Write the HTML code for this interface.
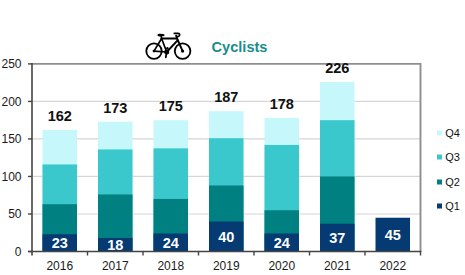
<!DOCTYPE html>
<html><head><meta charset="utf-8"><style>
html,body{margin:0;padding:0;background:#fff;}
body{width:465px;height:275px;overflow:hidden;}
svg{display:block;}
text{font-family:"Liberation Sans",sans-serif;}
.ax{font-size:12px;fill:#1a1a1a;}
.tot{font-size:14.5px;font-weight:bold;fill:#111;}
.q1{font-size:14.5px;font-weight:bold;fill:#fff;}
.leg{font-size:11px;fill:#111;}
.title{font-size:14.6px;font-weight:bold;fill:#1a8c8c;}
</style></head><body>
<svg width="465" height="275" viewBox="0 0 465 275">
<line x1="32.0" y1="213.98" x2="420.5" y2="213.98" stroke="#d6d6d6" stroke-width="1.2"/>
<line x1="32.0" y1="176.46" x2="420.5" y2="176.46" stroke="#d6d6d6" stroke-width="1.2"/>
<line x1="32.0" y1="138.94" x2="420.5" y2="138.94" stroke="#d6d6d6" stroke-width="1.2"/>
<line x1="32.0" y1="101.42" x2="420.5" y2="101.42" stroke="#d6d6d6" stroke-width="1.2"/>
<rect x="42.50" y="129.94" width="34.5" height="121.56" fill="#c6f8fb"/>
<rect x="42.50" y="164.45" width="34.5" height="87.05" fill="#3ac8cc"/>
<rect x="42.50" y="204.22" width="34.5" height="47.28" fill="#008080"/>
<rect x="42.50" y="234.24" width="34.5" height="17.26" fill="#053a72"/>
<rect x="98.00" y="121.68" width="34.5" height="129.82" fill="#c6f8fb"/>
<rect x="98.00" y="149.45" width="34.5" height="102.05" fill="#3ac8cc"/>
<rect x="98.00" y="194.47" width="34.5" height="57.03" fill="#008080"/>
<rect x="98.00" y="237.99" width="34.5" height="13.51" fill="#053a72"/>
<rect x="153.50" y="120.18" width="34.5" height="131.32" fill="#c6f8fb"/>
<rect x="153.50" y="148.32" width="34.5" height="103.18" fill="#3ac8cc"/>
<rect x="153.50" y="198.97" width="34.5" height="52.53" fill="#008080"/>
<rect x="153.50" y="233.49" width="34.5" height="18.01" fill="#053a72"/>
<rect x="209.00" y="111.18" width="34.5" height="140.32" fill="#c6f8fb"/>
<rect x="209.00" y="138.19" width="34.5" height="113.31" fill="#3ac8cc"/>
<rect x="209.00" y="185.46" width="34.5" height="66.04" fill="#008080"/>
<rect x="209.00" y="221.48" width="34.5" height="30.02" fill="#053a72"/>
<rect x="264.50" y="117.93" width="34.5" height="133.57" fill="#c6f8fb"/>
<rect x="264.50" y="144.94" width="34.5" height="106.56" fill="#3ac8cc"/>
<rect x="264.50" y="210.23" width="34.5" height="41.27" fill="#008080"/>
<rect x="264.50" y="233.49" width="34.5" height="18.01" fill="#053a72"/>
<rect x="320.00" y="81.91" width="34.5" height="169.59" fill="#c6f8fb"/>
<rect x="320.00" y="120.18" width="34.5" height="131.32" fill="#3ac8cc"/>
<rect x="320.00" y="176.46" width="34.5" height="75.04" fill="#008080"/>
<rect x="320.00" y="223.74" width="34.5" height="27.76" fill="#053a72"/>
<rect x="375.50" y="217.73" width="34.5" height="33.77" fill="#053a72"/>
<path d="M32.0 63.9 H420.5 V251.5" fill="none" stroke="#8e8e8e" stroke-width="1.9"/>
<line x1="32.0" y1="63.0" x2="32.0" y2="255.5" stroke="#444" stroke-width="1.6"/>
<line x1="28.0" y1="251.5" x2="421.4" y2="251.5" stroke="#444" stroke-width="1.5"/>
<line x1="28.0" y1="251.50" x2="32.0" y2="251.50" stroke="#444" stroke-width="1.4"/>
<line x1="28.0" y1="213.98" x2="32.0" y2="213.98" stroke="#444" stroke-width="1.4"/>
<line x1="28.0" y1="176.46" x2="32.0" y2="176.46" stroke="#444" stroke-width="1.4"/>
<line x1="28.0" y1="138.94" x2="32.0" y2="138.94" stroke="#444" stroke-width="1.4"/>
<line x1="28.0" y1="101.42" x2="32.0" y2="101.42" stroke="#444" stroke-width="1.4"/>
<line x1="28.0" y1="63.90" x2="32.0" y2="63.90" stroke="#444" stroke-width="1.4"/>
<line x1="87.50" y1="251.5" x2="87.50" y2="255.5" stroke="#444" stroke-width="1.4"/>
<line x1="143.00" y1="251.5" x2="143.00" y2="255.5" stroke="#444" stroke-width="1.4"/>
<line x1="198.50" y1="251.5" x2="198.50" y2="255.5" stroke="#444" stroke-width="1.4"/>
<line x1="254.00" y1="251.5" x2="254.00" y2="255.5" stroke="#444" stroke-width="1.4"/>
<line x1="309.50" y1="251.5" x2="309.50" y2="255.5" stroke="#444" stroke-width="1.4"/>
<line x1="365.00" y1="251.5" x2="365.00" y2="255.5" stroke="#444" stroke-width="1.4"/>
<line x1="420.50" y1="251.5" x2="420.50" y2="255.5" stroke="#444" stroke-width="1.4"/>
<text x="21.5" y="255.80" text-anchor="end" class="ax">0</text>
<text x="21.5" y="218.28" text-anchor="end" class="ax">50</text>
<text x="21.5" y="180.76" text-anchor="end" class="ax">100</text>
<text x="21.5" y="143.24" text-anchor="end" class="ax">150</text>
<text x="21.5" y="105.72" text-anchor="end" class="ax">200</text>
<text x="21.5" y="68.20" text-anchor="end" class="ax">250</text>
<text x="59.75" y="269.8" text-anchor="middle" class="ax">2016</text>
<text x="115.25" y="269.8" text-anchor="middle" class="ax">2017</text>
<text x="170.75" y="269.8" text-anchor="middle" class="ax">2018</text>
<text x="226.25" y="269.8" text-anchor="middle" class="ax">2019</text>
<text x="281.75" y="269.8" text-anchor="middle" class="ax">2020</text>
<text x="337.25" y="269.8" text-anchor="middle" class="ax">2021</text>
<text x="392.75" y="269.8" text-anchor="middle" class="ax">2022</text>
<text x="59.75" y="120.94" text-anchor="middle" class="tot">162</text>
<text x="59.75" y="248.37" text-anchor="middle" class="q1">23</text>
<text x="115.25" y="112.68" text-anchor="middle" class="tot">173</text>
<text x="115.25" y="250.25" text-anchor="middle" class="q1">18</text>
<text x="170.75" y="111.18" text-anchor="middle" class="tot">175</text>
<text x="170.75" y="248.00" text-anchor="middle" class="q1">24</text>
<text x="226.25" y="102.18" text-anchor="middle" class="tot">187</text>
<text x="226.25" y="241.99" text-anchor="middle" class="q1">40</text>
<text x="281.75" y="108.93" text-anchor="middle" class="tot">178</text>
<text x="281.75" y="248.00" text-anchor="middle" class="q1">24</text>
<text x="337.25" y="72.91" text-anchor="middle" class="tot">226</text>
<text x="337.25" y="243.12" text-anchor="middle" class="q1">37</text>
<text x="392.75" y="240.12" text-anchor="middle" class="q1">45</text>
<rect x="437" y="130.5" width="5" height="5" fill="#c6f8fb"/>
<text x="445.2" y="136.6" class="leg">Q4</text>
<rect x="437" y="154.5" width="5" height="5" fill="#3ac8cc"/>
<text x="445.2" y="160.6" class="leg">Q3</text>
<rect x="437" y="179.5" width="5" height="5" fill="#008080"/>
<text x="445.2" y="185.6" class="leg">Q2</text>
<rect x="437" y="203.5" width="5" height="5" fill="#053a72"/>
<text x="445.2" y="209.6" class="leg">Q1</text>
<text x="211.5" y="51.5" class="title">Cyclists</text>

<g fill="none" stroke="#000" stroke-width="1.8" stroke-linecap="round" stroke-linejoin="round">
  <circle cx="154" cy="51.1" r="7.7"/>
  <circle cx="182.6" cy="51.1" r="7.8"/>
  <path d="M154 51.1 L161.6 38.5 L166.7 52 Z" stroke-width="1.7"/>
  <path d="M161.6 38.5 H177.1 M177.6 40.3 L166.7 52" stroke-width="1.9"/>
  <path d="M161.1 35.5 L161.6 38.5" stroke-width="1.6"/>
  <path d="M176.1 35.6 L177.1 38.5 L182.6 51.1" stroke-width="1.9"/>
  <path d="M174.3 33.4 H178 Q179.9 33.5 179.6 35.2 Q179.3 36.3 177.5 36.6" stroke-width="1.7"/>
  <path d="M166.7 52 L165.8 57.3" stroke-width="1.8"/>
</g>
<path d="M157.4 34.9 Q157.6 33.7 160 33.8 L163.2 34 Q164.8 34.2 164.6 35.2 Q164.4 36.3 162.5 36.3 L159.5 36.4 Q157.3 36.3 157.4 34.9 Z" fill="#000"/>
<circle cx="166.7" cy="52" r="2.5" fill="#000"/>
<circle cx="167.4" cy="48.3" r="1.2" fill="#000"/>
<circle cx="154" cy="51.1" r="1.4" fill="#000"/>
<circle cx="182.6" cy="51.1" r="1.6" fill="#000"/>

</svg>
</body></html>
